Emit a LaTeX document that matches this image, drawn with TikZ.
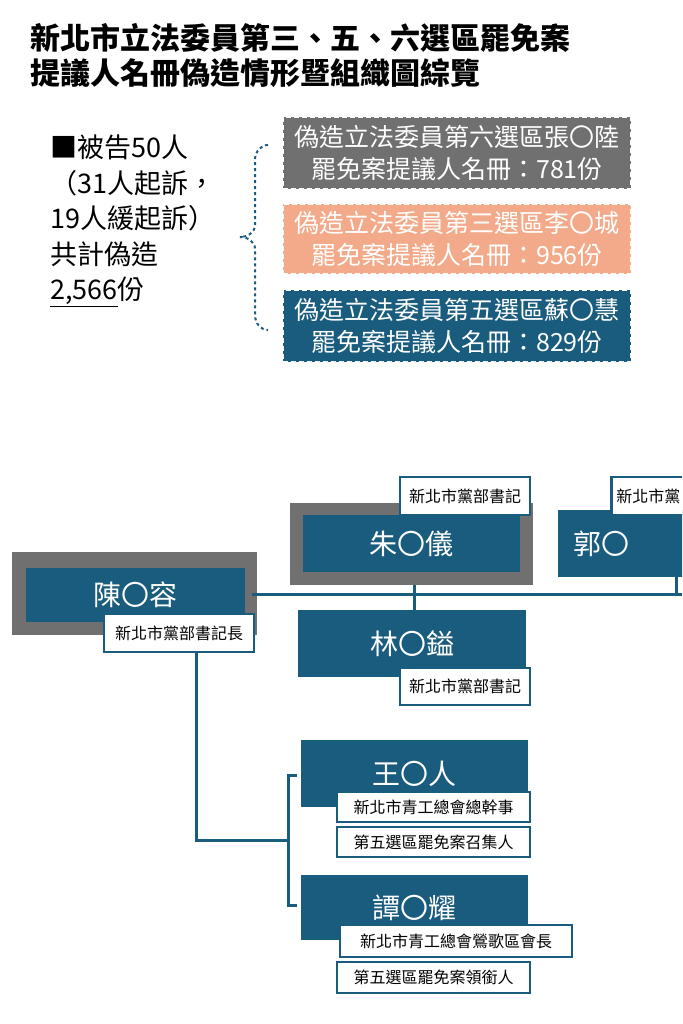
\documentclass[tikz,border=0pt]{standalone}
\usepackage{fontspec}
\setmainfont{Noto Sans CJK TC}
\usetikzlibrary{calc}
\definecolor{navy}{RGB}{26,92,126}
\definecolor{peach}{RGB}{242,170,138}
\definecolor{slate}{RGB}{112,112,112}
\tikzset{
  person/.style = {fill=navy,text=white,font=\fontsize{28}{32}\selectfont},
  title/.style = {fill=white,draw=navy,line width=2.5pt,font=\fontsize{16}{18}\selectfont,anchor=center,inner sep=1pt},
  link/.style = {draw=navy,line width=3pt},
  forged/.style = {draw=white,dashed,line width=2.5pt,dash pattern=on 5pt off 3pt,text=white,
     font=\fontsize{25}{32}\selectfont,align=center,inner sep=1pt}
}
\begin{document}
\begin{tikzpicture}[x=1pt,y=-1pt]
\useasboundingbox (0,0) rectangle (682,1024);
\clip (0,0) rectangle (682,1024);
% heading
\node[anchor=west,inner sep=0pt,font=\bfseries\fontsize{30}{34}\selectfont] (head1) at (30,38) {新北市立法委員第三、五、六選區罷免案};
\node[anchor=west,inner sep=0pt,font=\bfseries\fontsize{30}{34}\selectfont] (head2) at (30,73) {提議人名冊偽造情形暨組織圖綜覽};
% summary
\node[anchor=north west,align=left,inner sep=0pt,font=\fontsize{27}{35.5}\selectfont] (sum) at (50,135)
  {■被告50人\\（31人起訴，\\19人緩起訴）\\共計偽造\\\underline{2,566}份};
% brace
\draw[navy,line width=2pt,dashed] (268,145) to[out=180,in=90] (255,160) -- (255,225)
  to[out=-90,in=0] (240,237) to[out=0,in=90] (255,249) -- (255,315) to[out=-90,in=180] (268,330);
% forged lists
\node[forged,fill=slate,minimum width=348pt,minimum height=72pt] (six) at (457,153)
  {偽造立法委員第六選區張〇陸\\罷免案提議人名冊：781份};
\node[forged,fill=peach,minimum width=348pt,minimum height=70pt] (three) at (457,239)
  {偽造立法委員第三選區李〇城\\罷免案提議人名冊：956份};
\node[forged,fill=navy,minimum width=348pt,minimum height=72pt] (five) at (457,326)
  {偽造立法委員第五選區蘇〇慧\\罷免案提議人名冊：829份};
% chart
\fill[slate] (12,552) rectangle (257,635);
\fill[slate] (290,503) rectangle (533,585);
\draw[link] (252,594) -- (682,594);
\draw[link] (414,585) -- (414,610);
\draw[link] (676,577) -- (676,594);
\node[person,minimum width=219pt,minimum height=54pt] (chen) at (135.5,595) {陳〇容};
\node[title,minimum width=150pt,minimum height=38pt] (chenT) at (179,633) {新北市黨部書記長};
\node[person,minimum width=217pt,minimum height=57pt] (zhu) at (411.5,543.5) {朱〇儀};
\node[title,minimum width=130pt,minimum height=38pt] (zhuT) at (465,496) {新北市黨部書記};
\node[person,minimum width=228pt,minimum height=67pt] (lin) at (412,643.5) {林〇鎰};
\node[title,minimum width=130pt,minimum height=37pt] (linT) at (465,686.5) {新北市黨部書記};
\node[person,anchor=west,minimum width=140pt,minimum height=67pt,text width=110pt] (guo) at (558,543.5) {郭〇};
\node[title,anchor=west,minimum width=100pt,minimum height=38pt,text width=90pt] (guoT) at (610,496) {新北市黨};
\draw[link] (chenT.south -| 196,0) -- (196,840) -- (288,840);
\draw[link] (297,775) -- (288,775) -- (288,905) -- (297,905);
\node[person,minimum width=227pt,minimum height=67pt] (wang) at (414.5,773.5) {王〇人};
\node[title,minimum width=193pt,minimum height=30pt] (wangT) at (433.5,807) {新北市青工總會總幹事};
\node[title,minimum width=193pt,minimum height=30pt] (wangR) at (433.5,842) {第五選區罷免案召集人};
\node[person,minimum width=227pt,minimum height=65pt] (tan) at (414.5,907.5) {譚〇耀};
\node[title,minimum width=232pt,minimum height=32pt] (tanT) at (456,941) {新北市青工總會鶯歌區會長};
\node[title,minimum width=193pt,minimum height=31pt] (tanR) at (433.5,977.5) {第五選區罷免案領銜人};
\end{tikzpicture}
\end{document}
